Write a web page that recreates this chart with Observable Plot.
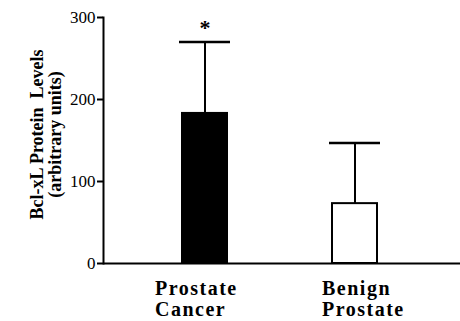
<!DOCTYPE html>
<html><head><meta charset="utf-8">
<script src="https://cdn.jsdelivr.net/npm/d3@7"></script>
<script src="https://cdn.jsdelivr.net/npm/@observablehq/plot@0.6"></script>
<style>
body{margin:0;background:#fff;}
svg, svg text{font-family:"Liberation Serif","DejaVu Serif",serif !important;}
g[font-size="20"], g[font-size="20"] text, g[font-size="20"] tspan{letter-spacing:1.5px !important;}
</style></head>
<body><div id="chart"></div>
<script>
const categories = ["Prostate Cancer", "Benign Prostate"];
const labelLines = ["Prostate\nCancer", "Benign\nProstate"];
const means = [183, 73];
const errorsUp = [87, 74];
const marks = ["*", ""];
const yTicks = [0, 100, 200, 300];
const yLabel = "Bcl-xL Protein  Levels\n(arbitrary units)";

const data = categories.map((c, i) => ({cat: c, mean: means[i], top: means[i] + errorsUp[i], mark: marks[i], label: labelLines[i]}));

const chart = Plot.plot({
  width: 460, height: 321,
  marginLeft: 103, marginRight: 0, marginTop: 17, marginBottom: 58,
  style: {fontFamily: "Liberation Serif, serif", background: "white"},
  x: {domain: categories, paddingInner: 0.687, paddingOuter: 0.533, align: 0.49, axis: null},
  y: {domain: [0, 300], ticks: yTicks},
  marks: [
    Plot.ruleX(data, {x: "cat", y1: "mean", y2: "top", stroke: "black", strokeWidth: 2}),
    Plot.tickY(data, {x: "cat", y: "top", stroke: "black", strokeWidth: 2.5, insetLeft: -2, insetRight: -2}),
    Plot.barY(data, {x: "cat", y: "mean", fill: (d, i) => i === 0 ? "black" : "white", stroke: "black", strokeWidth: 2, insetLeft: 1, insetRight: 1}),
    Plot.text(data, {x: "cat", y: "top", text: "mark", fontSize: 22, fontWeight: "bold", dy: -14}),
    Plot.axisY({ticks: yTicks, tickSize: 6, tickPadding: 2, strokeWidth: 2, fontSize: 17, label: null, tickFormat: d => String(d)}),
    Plot.frame({anchor: "left", strokeWidth: 2}),
    Plot.ruleY([0], {strokeWidth: 2}),
    Plot.text(data.slice(0, 1), {x: "cat", text: "label", frameAnchor: "bottom", textAnchor: "start", lineAnchor: "top", dy: 17, dx: -50, fontSize: 20, fontWeight: "bold", lineHeight: 1.05}),
    Plot.text(data.slice(1, 2), {x: "cat", text: "label", frameAnchor: "bottom", textAnchor: "start", lineAnchor: "top", dy: 17, dx: -33, fontSize: 20, fontWeight: "bold", lineHeight: 1.05}),
    Plot.text([yLabel], {text: d => d, frameAnchor: "left", textAnchor: "middle", rotate: -90, dx: -57, dy: -6, fontSize: 18, fontWeight: "bold", lineHeight: 1.0})
  ]
});
document.getElementById("chart").appendChild(chart);
</script></body></html>
